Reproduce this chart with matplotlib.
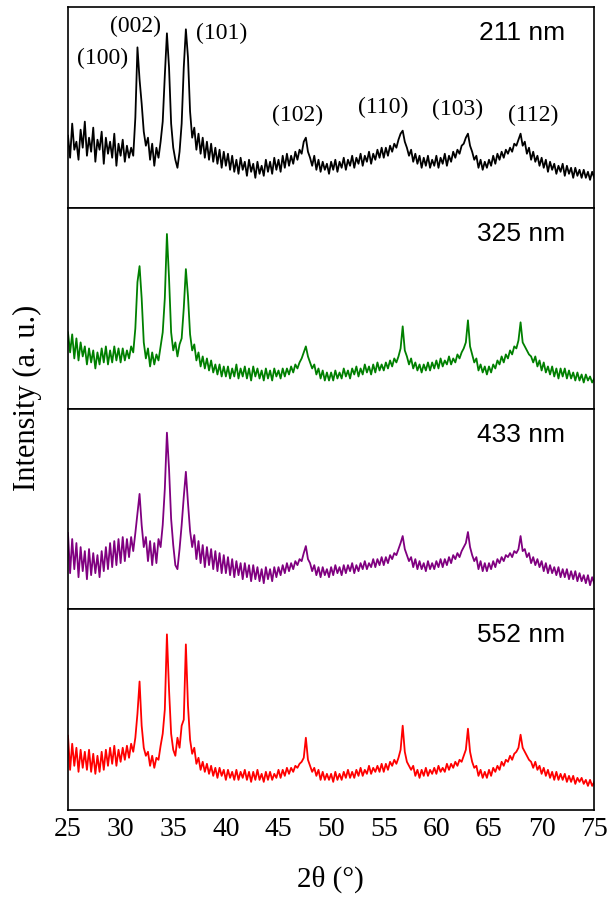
import numpy as np
import matplotlib
matplotlib.use('Agg')
import matplotlib.pyplot as plt

# 2theta grid, 0.2 deg steps from 25 to 75
two_theta = np.arange(25, 75.001, 0.2)

# intensities (arbitrary units, 0-200 per panel)
# one row = 5 degrees
i_211 = [
    72, 50, 84, 58, 66, 48, 78, 60, 86, 52, 70, 56, 80, 46, 68, 58, 76, 44, 70, 54, 66, 50, 74, 42, 64,
    52, 68, 46, 62, 50, 60, 52, 90, 160, 128, 104, 76, 62, 70, 48, 64, 42, 60, 50, 66, 86, 132, 174, 140, 84,
    60, 48, 40, 56, 84, 140, 178, 150, 96, 70, 80, 58, 74, 54, 70, 50, 66, 48, 64, 46, 60, 44, 58, 40, 56,
    42, 54, 38, 52, 36, 48, 34, 50, 38, 46, 32, 48, 36, 44, 30, 46, 34, 42, 32, 48, 36, 46, 34, 50, 38,
    48, 36, 52, 40, 54, 42, 52, 44, 56, 48, 58, 54, 66, 70, 56, 50, 42, 52, 38, 48, 36, 46, 38, 44, 34,
    46, 38, 48, 36, 46, 40, 50, 38, 48, 42, 52, 40, 50, 44, 54, 42, 52, 46, 56, 44, 54, 48, 58, 50, 60,
    50, 60, 52, 62, 56, 64, 60, 68, 74, 77, 66, 60, 52, 58, 46, 54, 44, 52, 40, 50, 42, 52, 40, 48, 42,
    52, 40, 50, 44, 54, 42, 52, 46, 56, 50, 58, 54, 62, 64, 70, 74, 62, 56, 48, 52, 40, 48, 38, 46, 40,
    48, 42, 52, 44, 54, 48, 56, 50, 58, 54, 60, 56, 64, 62, 68, 74, 62, 66, 54, 60, 48, 56, 46, 52, 42,
    50, 40, 48, 36, 46, 38, 44, 34, 42, 36, 44, 32, 42, 34, 40, 30, 40, 32, 38, 30, 38, 30, 36, 28, 36,
    30]
i_325 = [
    76, 56, 74, 50, 70, 48, 66, 52, 62, 44, 60, 46, 58, 40, 56, 44, 60, 46, 62, 44, 58, 46, 62, 48, 60,
    46, 60, 48, 58, 50, 62, 56, 80, 126, 142, 110, 66, 50, 60, 42, 56, 44, 54, 48, 62, 76, 110, 174, 130, 76,
    58, 66, 52, 64, 70, 100, 139, 112, 74, 58, 64, 48, 56, 42, 52, 40, 50, 38, 48, 36, 44, 34, 44, 32, 42,
    32, 42, 30, 40, 32, 44, 30, 40, 32, 42, 30, 40, 28, 42, 32, 40, 30, 38, 28, 40, 30, 38, 28, 40, 32,
    38, 30, 40, 32, 40, 34, 42, 36, 44, 40, 46, 50, 56, 62, 52, 46, 40, 44, 34, 40, 30, 38, 28, 36, 28,
    36, 28, 38, 30, 36, 30, 40, 32, 38, 30, 40, 34, 42, 32, 40, 34, 44, 36, 42, 34, 44, 36, 46, 38, 44,
    38, 46, 40, 48, 42, 50, 46, 52, 60, 82, 58, 52, 44, 50, 40, 46, 38, 44, 36, 44, 38, 46, 38, 46, 40,
    48, 40, 50, 42, 48, 44, 52, 44, 50, 46, 54, 50, 56, 60, 66, 88, 62, 54, 46, 50, 38, 44, 36, 42, 34,
    42, 36, 44, 40, 48, 44, 52, 46, 54, 50, 58, 54, 62, 60, 68, 86, 66, 62, 58, 54, 52, 46, 52, 42, 48,
    38, 46, 36, 42, 34, 42, 32, 40, 30, 40, 32, 40, 30, 38, 30, 36, 28, 36, 28, 34, 26, 34, 28, 32, 26,
    30]
i_433 = [
    76, 36, 70, 40, 66, 32, 62, 38, 58, 30, 60, 34, 56, 36, 54, 32, 58, 38, 62, 40, 66, 42, 68, 44, 70,
    46, 72, 48, 70, 52, 72, 58, 76, 96, 115, 84, 62, 72, 48, 68, 44, 66, 46, 70, 62, 84, 120, 176, 140, 90,
    64, 44, 40, 60, 84, 112, 137, 106, 78, 62, 74, 50, 68, 46, 64, 42, 62, 44, 60, 40, 58, 38, 56, 36, 54,
    36, 52, 34, 50, 32, 48, 34, 46, 30, 46, 32, 44, 28, 44, 30, 42, 28, 40, 26, 42, 30, 40, 28, 42, 32,
    42, 34, 44, 36, 46, 38, 46, 40, 48, 44, 50, 48, 56, 63, 50, 46, 38, 44, 34, 42, 32, 42, 34, 40, 32,
    42, 34, 44, 36, 42, 34, 44, 36, 44, 38, 46, 36, 44, 38, 46, 40, 48, 40, 46, 42, 50, 42, 50, 44, 52,
    44, 52, 46, 54, 50, 56, 54, 60, 66, 73, 60, 54, 48, 52, 42, 50, 40, 48, 40, 46, 38, 48, 40, 46, 40,
    48, 42, 50, 42, 50, 44, 52, 46, 54, 50, 56, 52, 58, 62, 66, 77, 62, 54, 48, 52, 40, 48, 38, 46, 38,
    46, 40, 48, 42, 50, 46, 52, 48, 54, 52, 56, 52, 58, 56, 60, 73, 58, 60, 52, 56, 46, 52, 44, 50, 42,
    48, 38, 46, 36, 44, 36, 42, 34, 42, 32, 40, 32, 40, 30, 38, 30, 38, 28, 36, 28, 34, 26, 34, 24, 32,
    26]
i_552 = [
    74, 40, 66, 44, 62, 38, 60, 42, 58, 40, 60, 38, 56, 36, 54, 38, 58, 40, 60, 44, 62, 46, 64, 44, 60,
    48, 62, 50, 64, 52, 66, 58, 72, 96, 128, 84, 62, 54, 58, 44, 54, 42, 52, 50, 64, 76, 100, 175, 120, 76,
    60, 54, 72, 62, 84, 90, 165, 104, 70, 56, 62, 46, 52, 40, 48, 38, 46, 36, 44, 34, 42, 32, 42, 34, 40,
    30, 40, 32, 38, 30, 40, 30, 38, 32, 40, 30, 38, 28, 38, 30, 40, 30, 36, 28, 38, 30, 38, 30, 36, 32,
    40, 32, 40, 34, 42, 36, 42, 38, 44, 42, 46, 48, 52, 72, 50, 44, 38, 42, 34, 40, 30, 38, 30, 36, 30,
    36, 28, 38, 30, 36, 30, 38, 32, 40, 32, 38, 32, 40, 34, 42, 34, 40, 36, 44, 36, 42, 38, 44, 38, 46,
    38, 46, 40, 48, 44, 50, 46, 52, 60, 84, 58, 48, 44, 40, 44, 34, 40, 32, 40, 34, 42, 34, 40, 36, 42,
    36, 44, 38, 42, 38, 46, 40, 46, 42, 48, 44, 50, 48, 54, 60, 81, 58, 48, 42, 44, 34, 40, 32, 38, 32,
    40, 34, 42, 38, 44, 40, 48, 44, 50, 48, 54, 50, 56, 58, 62, 75, 62, 58, 54, 50, 48, 42, 48, 40, 44,
    36, 42, 34, 40, 32, 38, 30, 38, 30, 36, 30, 36, 28, 34, 28, 34, 26, 32, 28, 32, 26, 30, 24, 30, 24,
    28]

samples = ['211 nm', '325 nm', '433 nm', '552 nm']
colors = ['black', 'green', 'purple', 'red']
series = [i_211, i_325, i_433, i_552]

# Miller indices on the top pattern
hkl = ['(100)', '(002)', '(101)', '(102)', '(110)', '(103)', '(112)']
hkl_x = [28.3, 31.4, 39.6, 46.8, 54.9, 62.0, 69.2]
hkl_y = [149, 181, 174, 92, 100, 98, 92]

serif = 'Liberation Serif'
sans = 'Liberation Sans'

fig, axes = plt.subplots(4, 1, figsize=(6.07, 9.05), dpi=100, sharex=True)
fig.subplots_adjust(left=0.112, right=0.979, bottom=0.105, top=0.992, hspace=0)

for ax, y, c, s in zip(axes, series, colors, samples):
    ax.plot(two_theta, y, color=c, lw=1.3)
    ax.set_xlim(25, 75)
    ax.set_ylim(0, 200)
    ax.set_yticks([])
    ax.tick_params(axis='x', length=0, pad=5, labelsize=20)
    for sp in ax.spines.values():
        sp.set_linewidth(1.2)
    ax.text(72.2, 174, s, ha='right', va='center', fontsize=19, family=sans)

for lab, xx, yy in zip(hkl, hkl_x, hkl_y):
    axes[0].text(xx, yy, lab, ha='center', va='center', fontsize=17, family=serif)

axes[-1].set_xticks(np.arange(25, 76, 5))
for t in axes[-1].get_xticklabels():
    t.set_family(serif)

fig.text(0.545, 0.028, '2θ (°)', ha='center', va='center', fontsize=21, family=serif)
fig.text(0.046, 0.56, 'Intensity (a. u.)', ha='center', va='center', rotation=90,
         fontsize=22, family=serif)

plt.savefig('out.png', dpi=100)
